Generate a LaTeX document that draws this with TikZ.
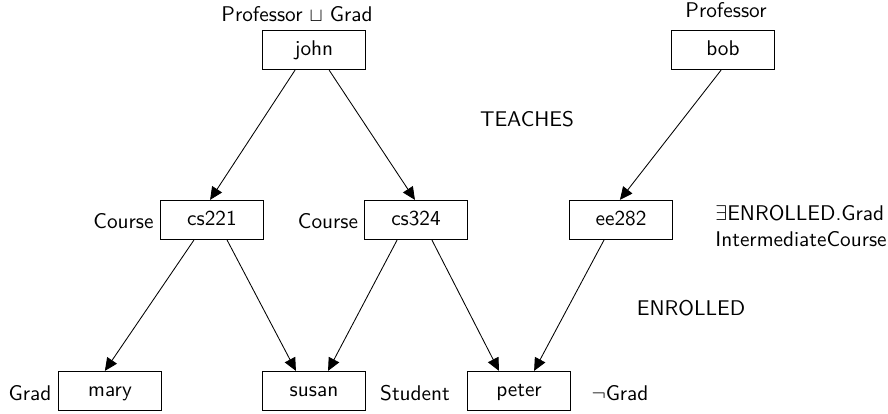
\documentclass[tikz,border=0pt]{standalone}
\usetikzlibrary{arrows.meta}
\begin{document}
\begin{tikzpicture}
      [
      x=0.47pt,y=-0.47pt,font=\sffamily,
      individual/.style={rectangle,draw,minimum width=48.5pt,minimum height=18.5pt,text height=1.5ex,text depth=.25ex},
      concept/.style={anchor=base},
      role/.style={anchor=base},
      >={Triangle[length=6pt,width=5.5pt]}
      ]
      \useasboundingbox (0,0) rectangle (888,414);
      \node (john) at (314,50) [individual] {john};
      \node (bob) at (723,50) [individual] {bob};
      \node (cs221) at (212,220) [individual] {cs221};
      \node (cs324) at (416,220) [individual] {cs324};
      \node (ee282) at (621,220) [individual] {ee282};
      \node (mary) at (110,391) [individual] {mary};
      \node (susan) at (314,391) [individual] {susan};
      \node (peter) at (519,391) [individual] {peter};
      \node (johnC) at (297,22) [concept] {Professor {\small$\sqcup$} Grad};
      \node (bobC) at (726,18) [concept] {Professor};
      \node (cs221C) at (123.5,229) [concept] {Course};
      \node (cs324C) at (328,229) [concept] {Course};
      \node (ee282C) at (715,226) [anchor=west,inner sep=0pt,align=left] {$\exists$ENROLLED.Grad\\IntermediateCourse};
      \node (maryC) at (30,401) [concept] {Grad};
      \node (susanC) at (415,401) [concept] {Student};
      \node (peterC) at (620,401) [concept] {$\neg$Grad};
      \node (teaches) at (527,127) [role] {TEACHES};
      \node (enrolled) at (691,316) [role] {ENROLLED};
      \draw [->] ([xshift=-8.9pt]john.south) to ([xshift=-0.9pt]cs221.north);
      \draw [->] ([xshift=7.1pt]john.south) to ([xshift=-0.5pt]cs324.north);
      \draw [->] ([xshift=-0.9pt]bob.south) to ([xshift=-0.5pt]ee282.north);
      \draw [->] ([xshift=-8.5pt]cs221.south) to ([xshift=-2.4pt]mary.north);
      \draw [->] ([xshift=7.1pt]cs221.south) to ([xshift=-8.5pt]susan.north);
      \draw [->] ([xshift=-8.9pt]cs324.south) to ([xshift=6.6pt]susan.north);
      \draw [->] ([xshift=7.5pt]cs324.south) to ([xshift=-9.4pt]peter.north);
      \draw [->] ([xshift=-8pt]ee282.south) to ([xshift=7.1pt]peter.north);
    \end{tikzpicture}
\end{document}
